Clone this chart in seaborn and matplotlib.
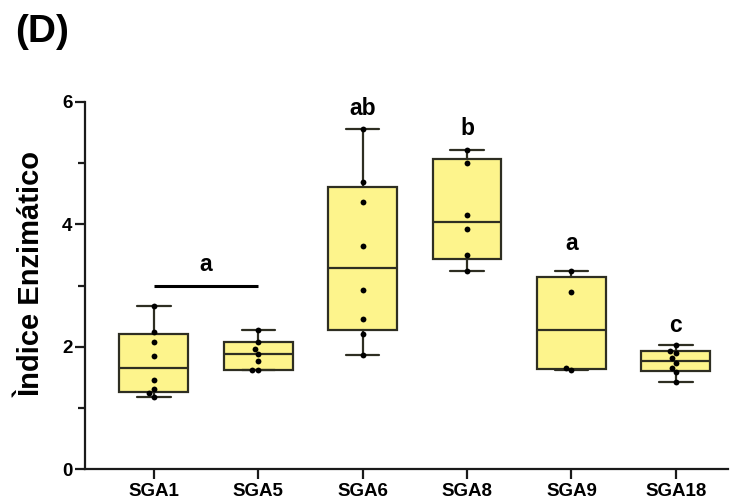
import numpy as np
import pandas as pd
import matplotlib
matplotlib.use("Agg")
import matplotlib.pyplot as plt
import seaborn as sns

# Enzymatic index per isolate
groups = ["SGA1", "SGA5", "SGA6", "SGA8", "SGA9", "SGA18"]
sga1 = [2.66, 2.24, 2.08, 1.85, 1.45, 1.31, 1.24, 1.18]
sga5 = [2.28, 2.08, 1.96, 1.88, 1.77, 1.62, 1.62]
sga6 = [5.56, 4.69, 4.36, 3.64, 2.92, 2.45, 2.21, 1.86]
sga8 = [5.21, 5.01, 4.15, 3.92, 3.50, 3.23]
sga9 = [3.23, 2.89, 1.65, 1.62]
sga18 = [2.03, 1.93, 1.90, 1.81, 1.73, 1.65, 1.58, 1.42]

# significance letters: (x position, baseline height, text)
letter_x = [0.5, 2, 3, 4, 5]
letter_y = [3.23, 5.79, 5.46, 3.58, 2.24]
letter_txt = ["a", "ab", "b", "a", "c"]
bar_span = [0, 1]
bar_y = 2.99

yticks = [0, 2, 4, 6]

sns.set_style("ticks")
plt.rcParams["font.family"] = ["Liberation Sans", "DejaVu Sans"]
plt.rcParams["font.weight"] = "bold"
plt.rcParams["text.color"] = "black"
plt.rcParams["xtick.color"] = "black"
plt.rcParams["ytick.color"] = "black"
plt.rcParams["axes.labelcolor"] = "black"

values = [sga1, sga5, sga6, sga8, sga9, sga18]
df = pd.DataFrame({
    "group": np.concatenate([[g] * len(v) for g, v in zip(groups, values)]),
    "value": np.concatenate(values),
})

fig = plt.figure(figsize=(7.35, 5.01), dpi=100)
ax = fig.add_axes([85 / 735, 1 - 469 / 501, 643 / 735, 367 / 501])

# box statistics with (n+1)p quartiles, whiskers to min/max
stats = []
for g, v in zip(groups, values):
    arr = np.asarray(v)
    q1, med, q3 = np.percentile(arr, [25, 50, 75], method="weibull")
    stats.append(dict(label=g, med=med, q1=q1, q3=q3,
                      whislo=arr.min(), whishi=arr.max(), fliers=[]))

face = "#FDF48C"
edge = "#2E2E22"
ax.bxp(stats, positions=range(len(groups)), widths=0.66, capwidths=0.32,
       patch_artist=True, showfliers=False, manage_ticks=False,
       boxprops=dict(facecolor=face, edgecolor=edge, linewidth=1.6),
       medianprops=dict(color=edge, linewidth=1.6),
       whiskerprops=dict(color=edge, linewidth=1.6),
       capprops=dict(color=edge, linewidth=1.6), zorder=2)

sns.swarmplot(data=df, x="group", y="value", order=groups, color="black",
              size=4.2, ax=ax, zorder=3)

# significance annotations
ax.plot(bar_span, [bar_y, bar_y], color="black", lw=2.2, solid_capstyle="butt")
for x, y, t in zip(letter_x, letter_y, letter_txt):
    ax.text(x, y, t, ha="center", va="baseline", fontsize=16.5,
            fontweight="bold", color="black")

ax.set_xlim(-0.66, 5.5)
ax.set_ylim(0, 6)
ax.set_yticks(yticks)
ax.set_yticks([1, 3, 5], minor=True)
ax.set_xlabel("")
ax.set_ylabel("Ìndice Enzimático", fontsize=21, fontweight="bold",
              color="black")
ax.yaxis.set_label_coords(-0.062, 0.53)

for s in ["top", "right"]:
    ax.spines[s].set_visible(False)
for s in ["left", "bottom"]:
    ax.spines[s].set_linewidth(1.6)
    ax.spines[s].set_color("#1a1a1a")

ax.tick_params(axis="both", which="major", length=7, width=1.6,
               labelsize=13.5, color="#1a1a1a", labelcolor="black")
ax.tick_params(axis="y", which="minor", length=5, width=1.6, color="#1a1a1a")
ax.tick_params(axis="x", pad=3)
ax.tick_params(axis="y", pad=2)
for lab in ax.get_xticklabels() + ax.get_yticklabels():
    lab.set_fontweight("bold")

fig.text(15 / 735, 1 - 14 / 501, "(D)", ha="left", va="top",
         fontsize=28, fontweight="bold", color="black")

fig.savefig("out.png", dpi=100, facecolor="white")
